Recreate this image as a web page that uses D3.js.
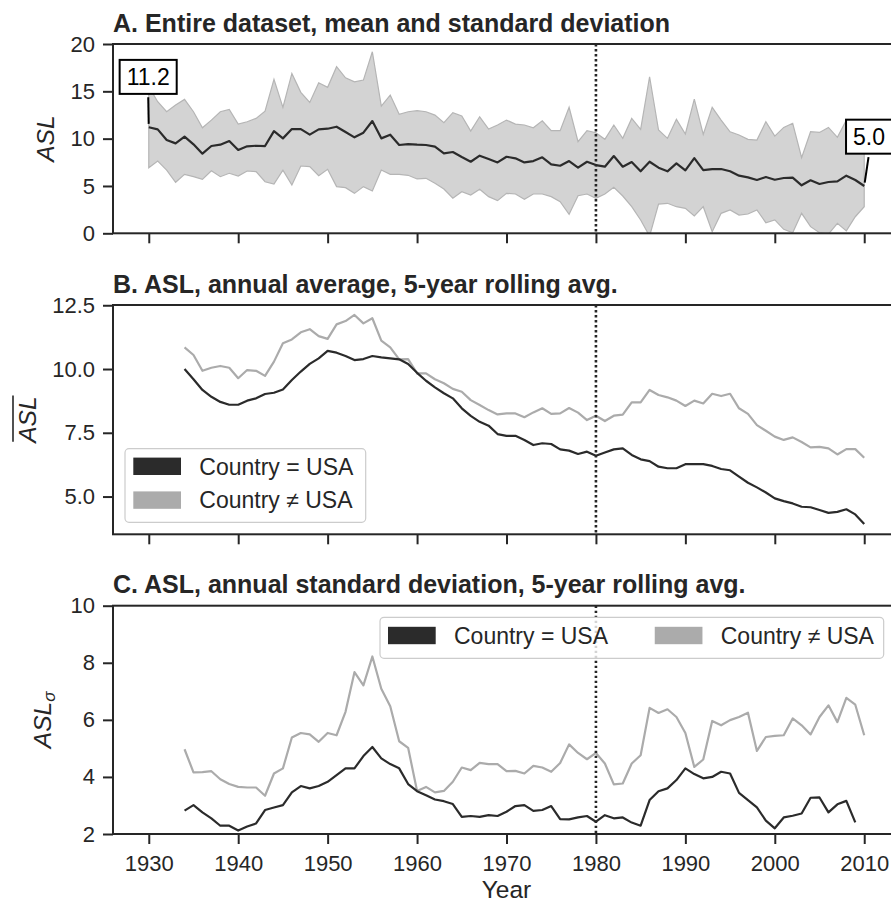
<!DOCTYPE html>
<html><head><meta charset="utf-8">
<script src="https://cdn.jsdelivr.net/npm/d3@7"></script>
<style>
body{margin:0;background:#fff;}
svg text{font-family:"Liberation Sans",Arial,Helvetica,sans-serif;fill:#262626;}
</style></head><body>
<svg id="chart" width="891" height="904"></svg>
<script>
// ---------------- DATA ----------------
const yearsA = d3.range(1930, 2011);        // panel A: 1930..2010
const yearsRoll = d3.range(1934, 2011);     // panels B, C: 1934..2010
const yearsSdUSA = d3.range(1934, 2010);    // panel C USA: 1934..2009

const meanASL = [11.2,10.98,9.86,9.50,10.21,9.40,8.41,9.22,9.36,9.75,
  8.80,9.19,9.25,9.22,10.80,10.03,11.01,11.01,10.42,10.98,
  11.05,11.26,10.70,10.14,10.63,11.86,10.03,10.42,9.33,9.43,
  9.36,9.33,9.15,8.45,8.59,8.06,7.56,8.20,7.85,7.49,
  8.09,7.92,7.49,7.63,8.03,7.29,7.14,7.63,6.93,7.56,
  7.21,7.04,8.16,7.04,7.53,6.55,7.56,6.93,6.55,7.39,
  6.65,7.95,6.68,6.79,6.79,6.55,6.09,5.91,5.63,5.95,
  5.66,5.84,5.88,5.07,5.60,5.21,5.42,5.49,6.09,5.63,
  5.0];
const upperASL = [15.5,13.90,12.84,13.55,14.15,12.84,11.15,11.96,12.84,13.09,
  11.54,11.79,12.14,12.91,16.26,13.31,16.89,14.89,13.83,15.91,
  15.42,17.60,16.43,16.01,16.19,19.18,13.44,14.60,12.57,12.84,
  12.95,12.84,12.49,11.68,12.74,12.39,10.80,12.31,11.01,11.44,
  11.96,11.54,11.44,11.15,11.89,10.84,10.84,13.31,9.68,10.84,
  10.63,9.93,11.44,10.03,12.14,10.98,16.54,10.91,10.03,12.04,
  10.49,14.18,10.45,13.31,11.96,10.73,10.38,9.93,9.85,11.79,
  10.27,11.19,11.62,7.98,10.73,10.66,11.19,10.14,11.96,9.85,
  8.45];
const lowerASL = [6.93,7.63,6.68,5.39,6.23,5.98,5.70,6.61,5.98,6.34,
  6.05,6.58,6.51,5.45,5.21,6.68,5.10,7.11,7.04,6.09,
  6.76,4.93,4.82,4.22,4.93,4.47,6.68,6.23,6.23,6.13,
  5.74,5.81,5.28,4.68,3.70,4.40,4.05,4.65,3.87,3.45,
  4.22,4.15,3.59,4.15,4.15,3.87,3.34,2.01,3.97,4.15,
  3.70,4.15,4.86,3.94,2.81,1.41,-0.3,3.09,3.17,2.81,
  2.64,1.83,2.81,0.17,2.11,2.46,1.93,2.04,2.46,1.12,
  1.41,0.42,0.06,2.11,0.70,0.06,-0.08,1.06,0.25,1.75,
  2.81];

const avgUSA = [10.0,9.60,9.18,8.91,8.71,8.60,
  8.60,8.76,8.85,9.02,9.07,9.20,9.57,9.90,10.20,10.42,
  10.71,10.64,10.51,10.35,10.39,10.51,10.46,10.42,10.38,10.20,
  9.85,9.54,9.28,9.05,8.85,8.46,8.16,7.93,7.78,7.45,
  7.38,7.38,7.22,7.02,7.09,7.06,6.85,6.80,6.67,6.76,
  6.60,6.73,6.85,6.89,6.63,6.46,6.39,6.17,6.11,6.11,
  6.27,6.27,6.27,6.20,6.08,6.03,5.78,5.54,5.36,5.16,
  4.93,4.82,4.73,4.60,4.58,4.47,4.36,4.40,4.50,4.30,
  3.92];
const avgNonUSA = [10.85,10.55,9.93,10.05,10.12,10.05,
  9.64,9.96,9.93,9.73,10.29,11.01,11.16,11.44,11.56,11.29,
  11.18,11.75,11.88,12.12,11.79,11.99,11.11,10.85,10.38,10.39,
  9.83,9.83,9.60,9.44,9.22,9.11,8.78,8.59,8.39,8.22,
  8.26,8.26,8.11,8.30,8.46,8.24,8.26,8.47,8.29,8.00,
  8.17,7.96,8.17,8.21,8.69,8.69,9.18,8.98,8.89,8.76,
  8.55,8.76,8.65,9.03,8.94,9.03,8.46,8.24,7.80,7.58,
  7.35,7.22,7.32,7.14,6.93,6.95,6.89,6.65,6.86,6.86,
  6.52];

const sdUSA = [2.82,3.01,2.76,2.55,2.29,2.29,
  2.12,2.26,2.37,2.84,2.93,3.01,3.46,3.68,3.60,3.68,
  3.83,4.06,4.30,4.30,4.73,5.05,4.65,4.45,4.30,3.75,
  3.50,3.36,3.21,3.15,3.05,2.60,2.63,2.60,2.66,2.63,
  2.78,2.98,3.01,2.81,2.84,2.98,2.52,2.51,2.58,2.63,
  2.43,2.66,2.55,2.58,2.40,2.29,3.19,3.50,3.60,3.89,
  4.30,4.10,3.95,4.00,4.18,4.12,3.44,3.19,2.93,2.47,
  2.20,2.58,2.64,2.72,3.27,3.28,2.76,3.04,3.16,2.41];
const sdNonUSA = [4.97,4.16,4.17,4.20,3.92,3.75,
  3.65,3.63,3.63,3.34,4.12,4.30,5.38,5.54,5.49,5.23,
  5.54,5.46,6.28,7.67,7.21,8.22,7.09,6.48,5.25,5.02,
  3.51,3.65,3.46,3.51,3.83,4.33,4.24,4.49,4.45,4.45,
  4.20,4.21,4.12,4.39,4.33,4.18,4.49,5.14,4.84,4.62,
  4.84,4.47,3.74,3.77,4.47,4.76,6.42,6.24,6.37,6.10,
  5.54,4.35,4.61,5.96,5.81,5.99,6.10,6.25,4.91,5.40,
  5.44,5.46,6.05,5.81,5.49,6.10,6.51,5.92,6.77,6.53,
  5.46];

const xTicks = [1930,1940,1950,1960,1970,1980,1990,2000,2010];
const yTicksA = [0,5,10,15,20];
const yTicksB = [5.0,7.5,10.0,12.5];
const yTicksC = [2,4,6,8,10];
const markerYear = 1980;
const annotations = [{year:1930, value:11.2, label:"11.2"},{year:2010, value:5.0, label:"5.0"}];
const titles = ["A. Entire dataset, mean and standard deviation",
                "B. ASL, annual average, 5-year rolling avg.",
                "C. ASL, annual standard deviation, 5-year rolling avg."];
const legendLabels = ["Country = USA", "Country \u2260 USA"];
const xLabel = "Year";

// ---------------- STYLE / LAYOUT ----------------
const INK = "#262626", DARK = "#2b2b2b", GRAY = "#ababab";
const X0 = 113, X1 = 900;
const svg = d3.select("#chart");
const x = d3.scaleLinear().domain([1926, 2014]).range([X0, X1]);

const panels = [
  {top:44, bottom:233.3, domain:[0,20], ticks:yTicksA, fmt:d3.format("d"), labelX:54},
  {top:305, bottom:534.3, domain:[3.52,12.51], ticks:yTicksB, fmt:d3.format(".1f"), labelX:36},
  {top:605.7, bottom:834, domain:[2,10], ticks:yTicksC, fmt:d3.format("d"), labelX:51}
];
panels.forEach(p => { p.y = d3.scaleLinear().domain(p.domain).range([p.bottom, p.top]); });

const defs = svg.append("defs");
panels.forEach((p,i) => {
  defs.append("clipPath").attr("id","clip"+i).append("rect")
    .attr("x",X0).attr("y",p.top).attr("width",X1-X0).attr("height",p.bottom-p.top);
});

function styleAxis(g){
  g.select(".domain").remove();
  g.selectAll(".tick line").attr("stroke",INK).attr("stroke-width",2);
  g.selectAll(".tick text").attr("font-size","22px").attr("fill",INK)
    .attr("font-family",'"Liberation Sans",Arial,sans-serif');
}

panels.forEach((p,i) => {
  const g = svg.append("g");
  const data = g.append("g").attr("clip-path",`url(#clip${i})`);

  if(i===0){
    const rows = yearsA.map((yr,k)=>({yr, m:meanASL[k], lo:lowerASL[k], hi:upperASL[k]}));
    data.append("path").datum(rows)
      .attr("d", d3.area().x(d=>x(d.yr)).y0(d=>p.y(d.lo)).y1(d=>p.y(d.hi)))
      .attr("fill","#d3d3d3").attr("stroke","#b5b5b5").attr("stroke-width",1.2);
    data.append("path").datum(rows)
      .attr("d", d3.line().x(d=>x(d.yr)).y(d=>p.y(d.m)))
      .attr("fill","none").attr("stroke",DARK).attr("stroke-width",2.2).attr("stroke-linejoin","round");
  } else {
    const usa = i===1 ? avgUSA : sdUSA;
    const non = i===1 ? avgNonUSA : sdNonUSA;
    const yrsUSA = i===1 ? yearsRoll : yearsSdUSA;
    const ln = d3.line().x(d=>x(d[0])).y(d=>p.y(d[1]));
    data.append("path").datum(yearsRoll.map((yr,k)=>[yr,non[k]]))
      .attr("d",ln).attr("fill","none").attr("stroke",GRAY).attr("stroke-width",2.2).attr("stroke-linejoin","round");
    data.append("path").datum(yrsUSA.map((yr,k)=>[yr,usa[k]]))
      .attr("d",ln).attr("fill","none").attr("stroke",DARK).attr("stroke-width",2.2).attr("stroke-linejoin","round");
  }

  // dotted marker line
  g.append("line").attr("x1",x(markerYear)).attr("x2",x(markerYear))
    .attr("y1",p.top).attr("y2",p.bottom)
    .attr("stroke",INK).attr("stroke-width",2.6).attr("stroke-dasharray","2.4,2.6");

  // axes
  g.append("g").attr("transform",`translate(${X0},0)`)
    .call(d3.axisLeft(p.y).tickValues(p.ticks).tickFormat(p.fmt).tickSize(10).tickPadding(8))
    .call(styleAxis);
  g.append("g").attr("transform",`translate(0,${p.bottom})`)
    .call(d3.axisBottom(x).tickValues(xTicks).tickFormat(i===2 ? d3.format("d") : "").tickSize(10).tickPadding(11))
    .call(styleAxis);

  // spines
  g.append("rect").attr("x",X0).attr("y",p.top).attr("width",X1-X0).attr("height",p.bottom-p.top)
    .attr("fill","none").attr("stroke",INK).attr("stroke-width",2);

  // title
  g.append("text").attr("x",X0).attr("y",p.top-12.4).attr("font-size","25px")
    .attr("font-weight","bold").text(titles[i]);

  // y label
  const cy = (p.top+p.bottom)/2;
  const lg = g.append("g").attr("transform",`translate(${p.labelX},${cy}) rotate(-90)`);
  const t = lg.append("text").attr("text-anchor","middle").attr("font-size","24.5px")
    .attr("font-style","italic");
  t.append("tspan").text("ASL");
  if(i===2){
    t.append("tspan").attr("font-size","17px").attr("dy","4").text("\u03c3");
  }
  if(i===1){
    const w = t.node().getComputedTextLength();
    lg.append("line").attr("x1",-w/2+1).attr("x2",w/2+1).attr("y1",-23).attr("y2",-23)
      .attr("stroke",INK).attr("stroke-width",1.6);
  }
});

// annotations on panel A
const pA = panels[0];
const annoOffsets = [{dx:-0.6, dy:-50.4},{dx:4.8, dy:-49.3}];
annotations.forEach((a,k) => {
  const px = x(a.year), py = pA.y(a.value);
  const cx = px + annoOffsets[k].dx, cy = py + annoOffsets[k].dy;
  const g = svg.append("g");
  const txt = g.append("text").attr("x",cx).attr("y",cy+8.2).attr("text-anchor","middle")
    .attr("font-size","23px").style("fill","#000").text(a.label);
  const w = txt.node().getComputedTextLength() + 14, h = 34;
  const by = cy + h/2;
  const vx = px - cx, vy = py - by;
  const len = Math.hypot(vx, vy);
  g.insert("line","text")
    .attr("x1", cx + vx*(3.4/len)).attr("y1", by + vy*(3.4/len))
    .attr("x2", px - vx*(3.4/len)).attr("y2", py - vy*(3.4/len))
    .attr("stroke","#000").attr("stroke-width",2);
  g.insert("rect","text").attr("x",cx-w/2).attr("y",cy-h/2).attr("width",w).attr("height",h)
    .attr("fill","#fff").attr("stroke","#000").attr("stroke-width",2);
});

// legends
function legendVertical(x0, y0){
  const g = svg.append("g");
  g.append("rect").attr("x",x0).attr("y",y0).attr("width",240.7).attr("height",73.6)
    .attr("rx",4).attr("fill","#fff").attr("fill-opacity",0.8).attr("stroke","#cccccc").attr("stroke-width",1.2);
  [DARK, GRAY].forEach((c,k) => {
    const cy = y0 + 17.6 + k*33.8;
    g.append("rect").attr("x",x0+8.3).attr("y",cy-8.7).attr("width",47.7).attr("height",17.4).attr("fill",c);
    g.append("text").attr("x",x0+74.3).attr("y",cy+8.2).attr("font-size","23px").text(legendLabels[k]);
  });
}
function legendHorizontal(x0, y0){
  const g = svg.append("g");
  const box = g.append("rect").attr("x",x0).attr("y",y0).attr("height",41)
    .attr("rx",4).attr("fill","#fff").attr("fill-opacity",0.8).attr("stroke","#cccccc").attr("stroke-width",1.2);
  let cx = x0 + 8;
  const cy = y0 + 18.2;
  [DARK, GRAY].forEach((c,k) => {
    g.append("rect").attr("x",cx).attr("y",cy-8.7).attr("width",47.7).attr("height",17.4).attr("fill",c);
    const t = g.append("text").attr("x",cx+66).attr("y",cy+8.2).attr("font-size","23px").text(legendLabels[k]);
    cx = cx + 66 + t.node().getComputedTextLength() + 46.7;
  });
  box.attr("width", cx - 46.7 + 9.7 - x0);
}
legendVertical(125, 448.7);
legendHorizontal(380, 617.3);

// x label
svg.append("text").attr("x",(X0+X1)/2).attr("y",898).attr("text-anchor","middle")
  .attr("font-size","24.5px").text(xLabel);
</script>
</body></html>
